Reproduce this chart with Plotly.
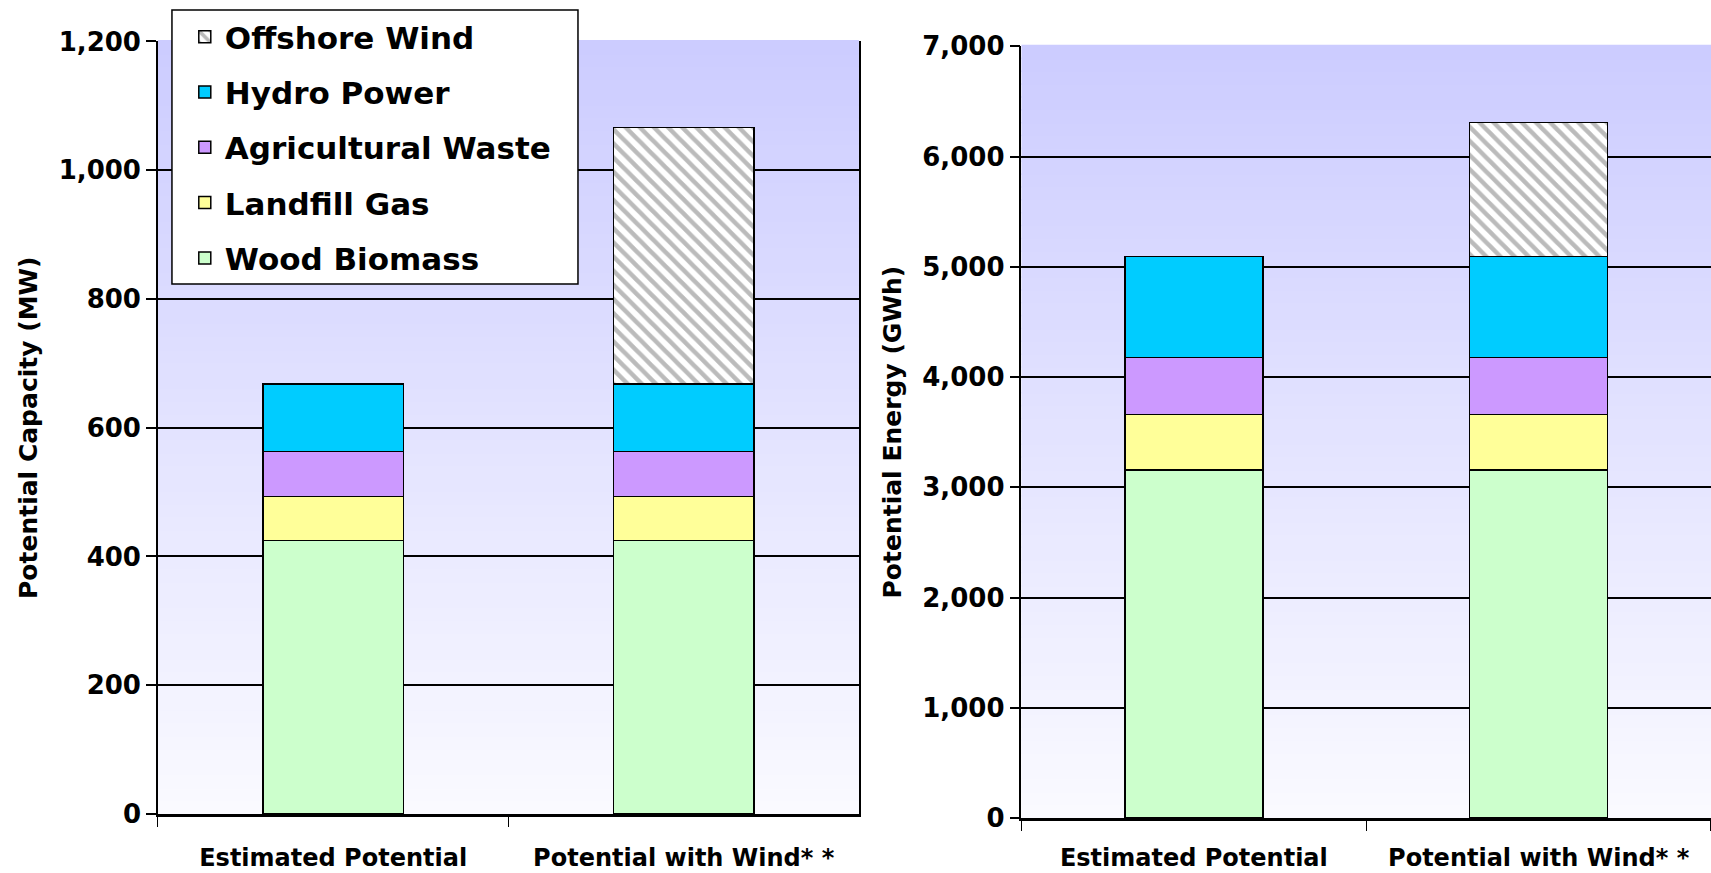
import plotly.graph_objects as go
from plotly.subplots import make_subplots

# Scenario categories
categories = ["Estimated Potential", "Potential with Wind* *"]

# Capacity (MW) by resource
capacity_wood = [425, 425]
capacity_landfill = [68, 68]
capacity_agri = [70, 70]
capacity_hydro = [105, 105]
capacity_wind = [0, 398]

# Energy (GWh) by resource
energy_wood = [3155, 3155]
energy_landfill = [505, 505]
energy_agri = [515, 515]
energy_hydro = [920, 920]
energy_wind = [0, 1215]

capacity_ticks = [0, 200, 400, 600, 800, 1000, 1200]
energy_ticks = [0, 1000, 2000, 3000, 4000, 5000, 6000, 7000]

series_names = ["Wood Biomass", "Landfill Gas", "Agricultural Waste", "Hydro Power", "Offshore Wind"]
series_colors = ["#ccffcc", "#ffff99", "#cc99ff", "#00ccff", "#ffffff"]

FONT = "DejaVu Sans, Verdana, sans-serif"

fig = make_subplots(rows=1, cols=2)

cap_series = [capacity_wood, capacity_landfill, capacity_agri, capacity_hydro, capacity_wind]
en_series = [energy_wood, energy_landfill, energy_agri, energy_hydro, energy_wind]

for col, data in ((1, cap_series), (2, en_series)):
    for i, (name, color, vals) in enumerate(zip(series_names, series_colors, data)):
        marker = dict(color=color, line=dict(color="black", width=1.5))
        if name == "Offshore Wind":
            marker["pattern"] = dict(shape="\\", fgcolor="#777777", bgcolor="white",
                                     size=10, solidity=0.45)
        fig.add_trace(go.Bar(
            x=categories, y=vals, name=name, marker=marker, width=0.4,
            showlegend=(col == 1), legendgroup=name,
            legendrank=len(series_names) - i,
        ), row=1, col=col)

# Vertical gradient behind each plot area (light at the bottom, lavender at the top)
n_steps = 60
top = (204, 204, 255)
bottom = (250, 250, 255)
for xref, yref in (("x domain", "y domain"), ("x2 domain", "y2 domain")):
    for k in range(n_steps):
        t = (k + 0.5) / n_steps
        c = tuple(round(bottom[j] + (top[j] - bottom[j]) * t) for j in range(3))
        fig.add_shape(type="rect", xref=xref, yref=yref,
                      x0=0, x1=1, y0=k / n_steps, y1=(k + 1) / n_steps + 0.002,
                      fillcolor="rgb(%d,%d,%d)" % c, line_width=0, layer="below")

# White framed panel that holds the legend
fig.add_shape(type="rect", xref="paper", yref="paper",
              x0=0.1005, x1=0.3378, y0=0.6747, y1=0.9885,
              fillcolor="white", line=dict(color="black", width=1.5), layer="above")

tick_font = dict(family=FONT, size=26, color="black", weight="bold")
cat_font = dict(family=FONT, size=24, color="black", weight="bold")
title_font = dict(family=FONT, size=25, color="black", weight="bold")

common_x = dict(showline=True, linecolor="black", linewidth=2.5, ticks="outside",
                tickson="boundaries", ticklen=10, tickcolor="black", tickwidth=1,
                showgrid=False, tickfont=cat_font, automargin=False)
common_y = dict(showline=True, linecolor="black", linewidth=1.5, mirror=True,
                ticks="outside", ticklen=10, tickcolor="black", tickwidth=1.5,
                showgrid=True, gridcolor="black", gridwidth=1.5,
                tickfont=tick_font, tickformat=",", zeroline=False, automargin=False)

fig.update_xaxes(common_x, row=1, col=1, domain=[0.0923, 0.502], ticklabelstandoff=20)
fig.update_xaxes(common_x, row=1, col=2, domain=[0.597, 1.0], ticklabelstandoff=16)
fig.update_yaxes(common_y, row=1, col=1, domain=[0.0676, 0.9525],
                 range=[0, 1200], tickvals=capacity_ticks,
                 title=dict(text="Potential Capacity (MW)", font=title_font, standoff=14))
fig.update_yaxes(common_y, row=1, col=2, domain=[0.063, 0.947],
                 range=[0, 7000], tickvals=energy_ticks,
                 title=dict(text="Potential Energy (GWh)", font=title_font, standoff=14))

fig.update_layout(
    barmode="stack",
    width=1711, height=873,
    margin=dict(l=0, r=0, t=0, b=0, autoexpand=False),
    paper_bgcolor="white",
    plot_bgcolor="rgba(0,0,0,0)",
    legend=dict(x=0.108, y=0.9885, xanchor="left", yanchor="top",
                bgcolor="rgba(0,0,0,0)", borderwidth=0,
                traceorder="grouped", tracegroupgap=12,
                font=dict(family=FONT, size=31, color="black", weight="bold")),
)

fig.write_html("out.html")
